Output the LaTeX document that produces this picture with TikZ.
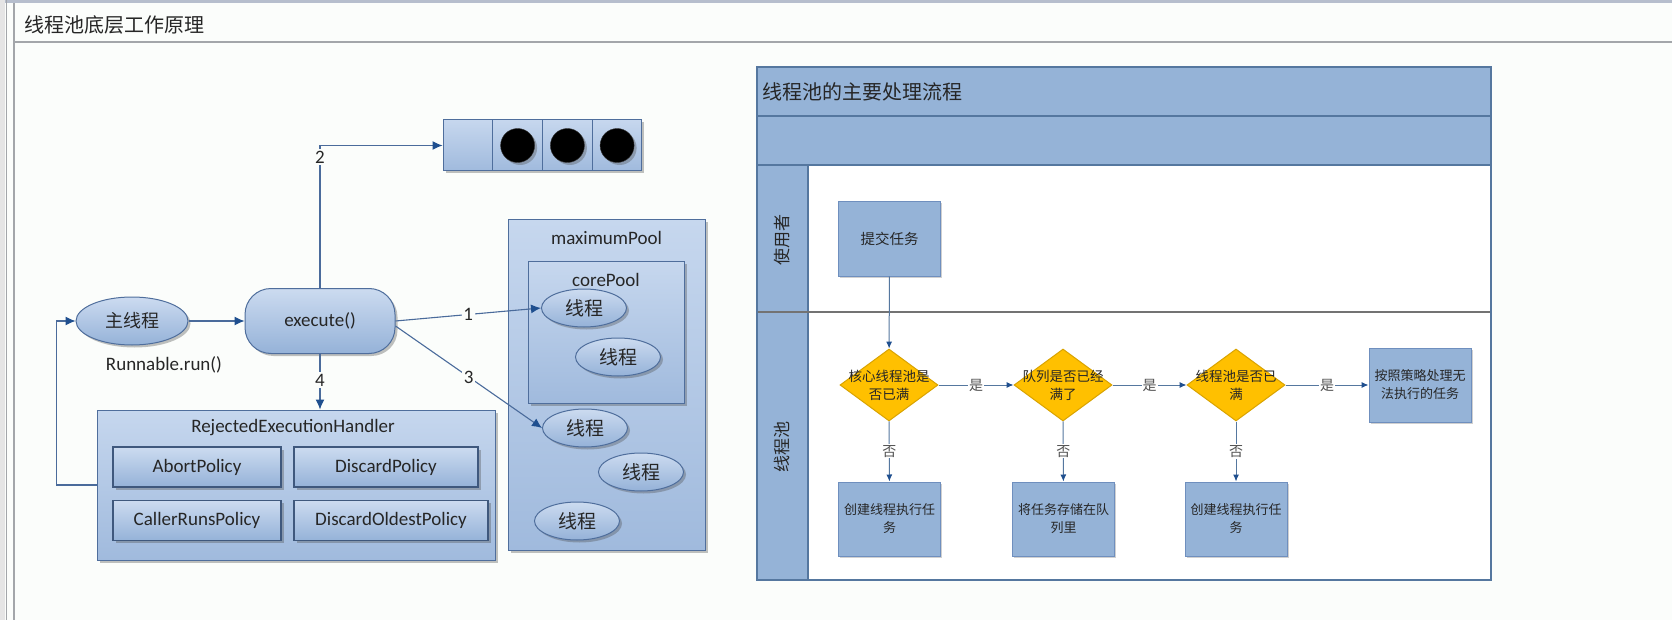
\documentclass[tikz,border=0pt]{standalone}
\usepackage{fontspec}
\setmainfont{Carlito}
\newfontfamily\cjk{Noto Sans CJK SC}
\usetikzlibrary{shapes.geometric,arrows.meta,shadows}
\definecolor{bgc}{HTML}{FBFDFB}
\definecolor{edge}{HTML}{4F6E9C}
\definecolor{lne}{HTML}{4A6B9B}
\definecolor{arr}{HTML}{1F4F8F}
\definecolor{lt}{HTML}{CCDBF0}
\definecolor{dk}{HTML}{95B2D8}
\definecolor{plt}{HTML}{C6D7EE}
\definecolor{pdk}{HTML}{A0BADD}
\definecolor{lane}{HTML}{95B3D7}
\definecolor{laneb}{HTML}{55779F}
\definecolor{gold}{HTML}{FFC000}
\definecolor{goldb}{HTML}{D9A300}
\definecolor{boxb}{HTML}{6F8FBE}
\definecolor{txt}{HTML}{262626}
\definecolor{wing}{HTML}{B6BECD}
\definecolor{wline}{HTML}{A3A6AA}
\tikzset{
  shd/.style={drop shadow={shadow xshift=2.5pt,shadow yshift=-2.5pt,opacity=0.35,fill=black!70}},
  gbox/.style={draw=edge,line width=1pt,top color=lt,bottom color=dk,shd,inner sep=0pt,text=txt},
  lat/.style={font=\fontsize{19pt}{22pt}\selectfont},
  ell/.style={gbox,ellipse,minimum width=85pt,minimum height=38pt,font=\cjk\fontsize{19pt}{21pt}\selectfont},
  pol/.style={gbox,draw=edge!80!black,line width=1.3pt,minimum height=40pt,lat},
  cell/.style={gbox,minimum width=49.75pt,minimum height=51pt,top color=plt,bottom color=pdk},
  ball/.style={circle,fill=black,draw=black!80,minimum size=34pt,inner sep=0pt,shd},
  conn/.style={draw=lne,line width=1.1pt,-{Latex[length=10pt,width=9pt,color=arr]}},
  num/.style={fill=bgc,inner sep=1.5pt,text=txt,lat},
  fbox/.style={fill=lane,draw=boxb,line width=1pt,minimum width=102pt,minimum height=74pt,inner sep=0pt,align=center,text=txt,font=\cjk\fontsize{13pt}{18pt}\selectfont,drop shadow={shadow xshift=1.5pt,shadow yshift=-1.5pt,opacity=0.3,fill=black!60}},
  dia/.style={diamond,fill=gold,draw=goldb,line width=1pt,minimum width=98pt,minimum height=72pt,inner sep=0pt},
  dtext/.style={align=center,text=txt,inner sep=0pt,font=\cjk\fontsize{13.5pt}{18pt}\selectfont},
  flow/.style={draw=laneb,line width=1pt,-{Latex[length=7pt,width=6pt,color=arr]}},
  yn/.style={fill=white,inner sep=1pt,text=txt!80,font=\cjk\fontsize{14pt}{16pt}\selectfont},
  lanetxt/.style={text=txt,font=\cjk\fontsize{17pt}{20pt}\selectfont},
}
\begin{document}
\begin{tikzpicture}[x=1pt,y=-1pt]
\useasboundingbox (0,0) rectangle (1672,620);
\fill[bgc] (0,0) rectangle (1672,620);
% window chrome
\fill[wing] (0,0) rectangle (1672,3);
\fill[black!10] (0,0) rectangle (5,620);
\draw[wline,line width=1pt] (6,0) -- (6,620);
\draw[wline,line width=1.5pt] (14,42) -- (1672,42);
\draw[wline,line width=1.2pt] (14,3) -- (14,620);
\node[anchor=west,text=txt,font=\cjk\fontsize{20pt}{22pt}\selectfont] (title) at (21,25) {线程池底层工作原理};

% ---------- left diagram ----------
\node[ell,minimum width=112pt,minimum height=48pt,font=\cjk\fontsize{18pt}{20pt}\selectfont] (mt) at (132,321) {主线程};
\node[lat,text=txt] (rr) at (164,365) {Runnable.run()};
\node[gbox,lat,rounded corners=26pt,minimum width=150pt,minimum height=65pt] (ex) at (320,321) {execute()};

\node[cell] (q0) at (467.9,145.5) {};
\node[cell] (q1) at (517.6,145.5) {};
\node[cell] (q2) at (567.4,145.5) {};
\node[cell] (q3) at (617.1,145.5) {};
\node[ball] (b1) at (q1) {};
\node[ball] (b2) at (q2) {};
\node[ball] (b3) at (q3) {};

\node[gbox,minimum width=197pt,minimum height=330pt,top color=plt,bottom color=pdk] (mp) at (606.5,385) {};
\node[lat,text=txt] (mpt) at (606.5,238) {maximumPool};
\node[gbox,minimum width=156pt,minimum height=141pt,top color=plt,bottom color=pdk] (cp) at (606,332.5) {};
\node[lat,text=txt] (cpt) at (606,280) {corePool};
\node[ell] (e1) at (584,308) {线程};
\node[ell] (e2) at (618,357) {线程};
\node[ell] (e3) at (585,428) {线程};
\node[ell] (e4) at (641,472) {线程};
\node[ell] (e5) at (577,521) {线程};

\node[gbox,minimum width=398pt,minimum height=150pt,top color=plt,bottom color=pdk] (reh) at (296,485) {};
\node[lat,text=txt] (reht) at (293,428) {RejectedExecutionHandler};
\node[pol,minimum width=168pt] (ab) at (197,467) {AbortPolicy};
\node[pol,minimum width=184pt] (dp) at (386,467) {DiscardPolicy};
\node[pol,minimum width=168pt] (cr) at (197,520.5) {CallerRunsPolicy};
\node[pol,minimum width=194pt] (dop) at (391,520.5) {DiscardOldestPolicy};

\draw[conn] (mt) -- (ex);
\draw[conn] (ex.north) |- node[num,pos=0.46] (n2) {2} (q0.west);
\draw[conn] (ex.east) -- node[num] (n1) {1} (e1.west);
\draw[conn] ([yshift=-5pt]ex.east) -- node[num] (n3) {3} (e3.west);
\draw[conn] (ex.south) -- node[num,pos=0.47] (n4) {4} (ex.south |- reh.north);
\draw[conn] (reh.west) -- ++(-40,0) |- (mt.west);

% ---------- right diagram ----------
\fill[white] (757,67) rectangle (1491,580);
\fill[lane] (757,67) rectangle (1491,165);
\fill[lane] (757,165) rectangle (808,580);
\draw[laneb,line width=1.2pt] (757,116) -- (1491,116);
\draw[laneb,line width=1.2pt] (757,165) -- (1491,165);
\draw[laneb,line width=1.2pt] (808,165) -- (808,580);
\draw[black!55,line width=1.4pt] (757,312) -- (1491,312);
\draw[laneb,line width=1.5pt] (757,67) rectangle (1491,580);
\node[anchor=west,text=txt,font=\cjk\fontsize{20pt}{22pt}\selectfont] (rt) at (759,92) {线程池的主要处理流程};
\node[lanetxt,rotate=90] (l1) at (782,240) {使用者};
\node[lanetxt,rotate=90] (l2) at (782,447) {线程池};

\node[fbox,font=\cjk\fontsize{14.5pt}{18pt}\selectfont] (sub) at (889.5,239) {提交任务};
\node[dia,label={[dtext]center:核心线程池是\\否已满}] (d1) at (889,385) {};
\node[dia,label={[dtext]center:队列是否已经\\满了}] (d2) at (1063,385) {};
\node[dia,label={[dtext]center:线程池是否已\\满}] (d3) at (1236,385) {};
\node[fbox] (b4) at (1420,385) {按照策略处理无\\法执行的任务};
\node[fbox] (c1) at (889.5,519) {创建线程执行任\\务};
\node[fbox] (c2) at (1063.5,519) {将任务存储在队\\列里};
\node[fbox] (c3) at (1236,519) {创建线程执行任\\务};

\draw[flow] (sub) -- (d1);
\draw[flow] (d1) -- node[yn] (y1) {是} (d2);
\draw[flow] (d2) -- node[yn] (y2) {是} (d3);
\draw[flow] (d3) -- node[yn] (y3) {是} (b4);
\draw[flow] (d1) -- node[yn] (f1) {否} (c1);
\draw[flow] (d2) -- node[yn] (f2) {否} (c2);
\draw[flow] (d3) -- node[yn] (f3) {否} (c3);
\end{tikzpicture}
\end{document}
